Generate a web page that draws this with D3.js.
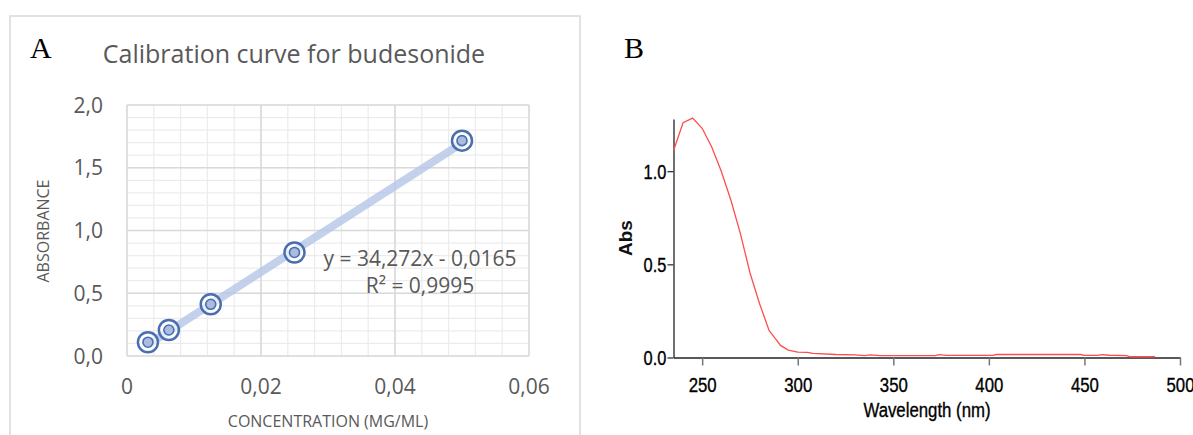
<!DOCTYPE html>
<html>
<head>
<meta charset="utf-8">
<script src="https://cdn.jsdelivr.net/npm/d3@7/dist/d3.min.js"></script>
<style>
  html, body { margin: 0; padding: 0; background: #fff; }
  svg { display: block; }
</style>
</head>
<body>
<svg id="fig" width="1193" height="435"></svg>
<script>
// Panel A: calibration standards (mg/mL) and measured absorbance
const concentration = [0.003125, 0.00625, 0.0125, 0.025, 0.05];
const absorbance = [0.11, 0.207, 0.412, 0.825, 1.716];
const fitSlope = 34.272;
const fitIntercept = -0.0165;
const equationLabel = "y = 34,272x - 0,0165";
const r2Label = "R² = 0,9995";
const xTicksA = [0, 0.02, 0.04, 0.06];
const xTickLabelsA = ["0", "0,02", "0,04", "0,06"];
const yTicksA = [0, 0.5, 1.0, 1.5, 2.0];
const yTickLabelsA = ["0,0", "0,5", "1,0", "1,5", "2,0"];

// Panel B: UV absorption spectrum
const wavelength = [235, 240, 245, 250, 255, 260, 265, 270, 275, 280, 285, 288, 291, 295, 300,
  305, 308, 320, 330, 335, 338, 343, 350, 360, 372, 374, 378, 390, 402, 404, 420, 440, 448,
  450, 457, 459, 463, 472, 474, 480, 487];
const absSpectrum = [1.11, 1.26, 1.285, 1.23, 1.13, 1.0, 0.845, 0.665, 0.455, 0.29, 0.145, 0.105,
  0.065, 0.04, 0.029, 0.027, 0.022, 0.016, 0.014, 0.01, 0.014, 0.01, 0.01, 0.01, 0.01, 0.015,
  0.011, 0.011, 0.011, 0.016, 0.016, 0.016, 0.016, 0.011, 0.011, 0.015, 0.012, 0.01, 0.004,
  0.004, 0.004];
const xTicksB = [250, 300, 350, 400, 450, 500];
const yTicksB = [0, 0.5, 1.0];

const svg = d3.select("#fig");

// ---------- Panel A ----------
const gA = svg.append("g");
gA.append("rect").attr("x", 10).attr("y", 16).attr("width", 570).attr("height", 440)
  .attr("fill", "#fff").attr("stroke", "#d9d9d9").attr("stroke-width", 1.5);

const xA = d3.scaleLinear().domain([0, 0.06]).range([127, 529]);
const yA = d3.scaleLinear().domain([0, 2]).range([356, 105]);

// minor grid
const minorX = d3.range(0, 0.0601, 0.004);
const minorY = d3.range(0, 2.001, 0.1);
gA.append("g").selectAll("line").data(minorX).join("line")
  .attr("x1", d => xA(d)).attr("x2", d => xA(d)).attr("y1", yA(0)).attr("y2", yA(2))
  .attr("stroke", "#ececec").attr("stroke-width", 1.2);
gA.append("g").selectAll("line").data(minorY).join("line")
  .attr("y1", d => yA(d)).attr("y2", d => yA(d)).attr("x1", xA(0)).attr("x2", xA(0.06))
  .attr("stroke", "#ececec").attr("stroke-width", 1.2);
// major grid
gA.append("g").selectAll("line").data(xTicksA).join("line")
  .attr("x1", d => xA(d)).attr("x2", d => xA(d)).attr("y1", yA(0)).attr("y2", yA(2))
  .attr("stroke", "#d9d9d9").attr("stroke-width", 1.5);
gA.append("g").selectAll("line").data(yTicksA).join("line")
  .attr("y1", d => yA(d)).attr("y2", d => yA(d)).attr("x1", xA(0)).attr("x2", xA(0.06))
  .attr("stroke", "#d9d9d9").attr("stroke-width", 1.5);

// tick labels
const fontA = "'Open Sans', 'Noto Sans', sans-serif";
gA.append("g").selectAll("text").data(yTicksA).join("text")
  .attr("x", 103).attr("y", d => yA(d)).attr("dy", "0.36em")
  .attr("text-anchor", "end").attr("font-family", fontA).attr("font-size", 21)
  .attr("fill", "#595959").text((d, i) => yTickLabelsA[i]);
gA.append("g").selectAll("text").data(xTicksA).join("text")
  .attr("x", d => xA(d)).attr("y", 394)
  .attr("text-anchor", "middle").attr("font-family", fontA).attr("font-size", 21)
  .attr("fill", "#595959").text((d, i) => xTickLabelsA[i]);

// trendline
const x0 = d3.min(concentration), x1 = d3.max(concentration);
gA.append("line")
  .attr("x1", xA(x0)).attr("y1", yA(fitSlope * x0 + fitIntercept))
  .attr("x2", xA(x1)).attr("y2", yA(fitSlope * x1 + fitIntercept))
  .attr("stroke", "#b4c6e7").attr("stroke-width", 8).attr("stroke-opacity", 0.8)
  .attr("stroke-linecap", "butt");

// markers
const pts = concentration.map((c, i) => [c, absorbance[i]]);
const mk = gA.append("g").selectAll("g").data(pts).join("g")
  .attr("transform", d => `translate(${xA(d[0])},${yA(d[1])})`);
mk.append("circle").attr("r", 10).attr("fill", "#fff").attr("fill-opacity", 0.6)
  .attr("stroke", "#4a6eb0").attr("stroke-width", 2.5);
mk.append("circle").attr("r", 5).attr("fill", "#aabce0")
  .attr("stroke", "#4a6eb0").attr("stroke-width", 1.6);

// equation
gA.append("text").attr("x", 420).attr("y", 266).attr("text-anchor", "middle")
  .attr("font-family", fontA).attr("font-size", 21).attr("fill", "#595959").text(equationLabel);
gA.append("text").attr("x", 420).attr("y", 293).attr("text-anchor", "middle")
  .attr("font-family", fontA).attr("font-size", 21).attr("fill", "#595959").text(r2Label);

// titles
gA.append("text").attr("x", 294).attr("y", 63).attr("text-anchor", "middle")
  .attr("font-family", fontA).attr("font-size", 25).attr("fill", "#595959")
  .text("Calibration curve for budesonide");
gA.append("text").attr("x", 328).attr("y", 427).attr("text-anchor", "middle")
  .attr("font-family", fontA).attr("font-size", 16).attr("fill", "#595959")
  .text("CONCENTRATION (MG/ML)");
gA.append("text").attr("transform", "translate(49,231) rotate(-90)").attr("text-anchor", "middle")
  .attr("font-family", fontA).attr("font-size", 16).attr("fill", "#595959")
  .text("ABSORBANCE");
gA.append("text").attr("x", 30).attr("y", 58)
  .attr("font-family", "'Liberation Serif', 'DejaVu Serif', serif").attr("font-size", 30)
  .attr("fill", "#000").text("A");

// ---------- Panel B ----------
const gB = svg.append("g");
const xB = d3.scaleLinear().domain([235, 500]).range([673.5, 1180]);
const yB = d3.scaleLinear().domain([0, 1.28]).range([357.5, 119]);
const fontB = "'Liberation Sans', Arial, sans-serif";
const narrow = "scale(0.8,1)";

const axX = gB.append("g").attr("transform", `translate(0,${yB(0)})`)
  .call(d3.axisBottom(xB).tickValues(xTicksB).tickSize(8).tickSizeOuter(0).tickFormat(d3.format("d")));
axX.select(".domain").attr("stroke", "#222").attr("stroke-width", 1.3);
axX.selectAll(".tick line").attr("stroke", "#777").attr("stroke-width", 1.5);
axX.selectAll(".tick text").attr("font-family", fontB).attr("font-size", 21)
  .attr("fill", "#000").attr("stroke", "#000").attr("stroke-width", 0.35)
  .attr("dy", 0).attr("y", 35).attr("transform", narrow);

const axY = gB.append("g").attr("transform", `translate(${xB(235)},0)`)
  .call(d3.axisLeft(yB).tickValues(yTicksB).tickSize(6).tickSizeOuter(0).tickFormat(d3.format(".1f")));
axY.select(".domain").attr("stroke", "#222").attr("stroke-width", 1.3);
axY.selectAll(".tick line").attr("stroke", "#333").attr("stroke-width", 1.3);
axY.selectAll(".tick text").attr("font-family", fontB).attr("font-size", 20.5)
  .attr("fill", "#000").attr("stroke", "#000").attr("stroke-width", 0.35)
  .attr("x", -9).attr("dy", "0.36em").attr("transform", narrow);

// spectrum
gB.append("path").datum(wavelength.map((w, i) => [w, absSpectrum[i]]))
  .attr("d", d3.line().x(d => xB(d[0])).y(d => yB(d[1])))
  .attr("fill", "none").attr("stroke", "#ff4d4d").attr("stroke-width", 1.3);

gB.append("text").attr("transform", "translate(927,417) scale(0.8,1)").attr("text-anchor", "middle")
  .attr("font-family", fontB).attr("font-size", 21).attr("fill", "#000")
  .attr("stroke", "#000").attr("stroke-width", 0.35)
  .text("Wavelength (nm)");
gB.append("text").attr("transform", "translate(632,238) rotate(-90)").attr("text-anchor", "middle")
  .attr("font-family", fontB).attr("font-weight", "bold")
  .attr("font-size", 19).attr("fill", "#111").text("Abs");
gB.append("text").attr("x", 624).attr("y", 58)
  .attr("font-family", "'Liberation Serif', 'DejaVu Serif', serif").attr("font-size", 30)
  .attr("fill", "#000").text("B");
</script>
</body>
</html>
